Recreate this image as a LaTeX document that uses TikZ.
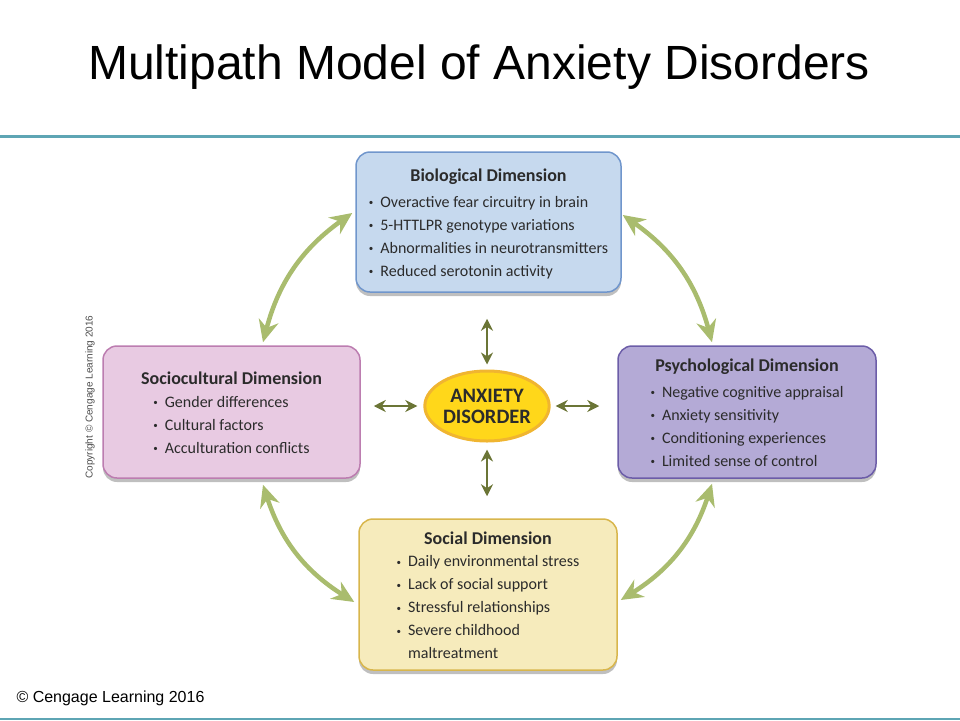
\documentclass[tikz,border=0pt]{standalone}
\usepackage{fontspec}
\setmainfont{Carlito}
\newfontfamily\arialfont{Liberation Sans}
\usetikzlibrary{arrows.meta,shapes.geometric,shadows,calc}

\definecolor{slideline}{HTML}{5EA5B4}
\definecolor{textgray}{HTML}{2B2B2B}
\definecolor{biofill}{HTML}{C6D9EE}
\definecolor{bioline}{HTML}{7096CC}
\definecolor{psyfill}{HTML}{B4AAD6}
\definecolor{psyline}{HTML}{6C5DA8}
\definecolor{socfill}{HTML}{E8CAE2}
\definecolor{socline}{HTML}{BC7DB0}
\definecolor{scifill}{HTML}{F6EBBC}
\definecolor{sciline}{HTML}{D8B64C}
\definecolor{anxfill}{HTML}{FFD71A}
\definecolor{anxline}{HTML}{F0B530}
\definecolor{darkolive}{HTML}{6B7536}
\definecolor{lightolive}{HTML}{A9BC6E}

\newcommand{\bul}{\raisebox{1.5pt}{\fontsize{9}{9}\selectfont\textbullet}}
\newcommand{\dimtext}[2]{%
  {\fontsize{18}{23}\selectfont\bfseries\rule{0pt}{21pt}#1}\\[5pt]%
  \fontsize{16}{23}\selectfont
  \begin{tabular}[t]{@{}l@{\hspace{7pt}}l@{}}#2\end{tabular}}

\begin{document}
\begin{tikzpicture}[x=1pt,y=-1pt,
            dimbox/.style = {rectangle, rounded corners=14pt,
                        line width=1.5pt, align=center, inner sep=0pt,
                        text=textgray,
                        drop shadow={shadow xshift=0pt, shadow yshift=-4pt,
                                     opacity=0.25, fill=black}},
            curvearrow/.style = {draw=lightolive, line width=4.5pt,
                        {Stealth[length=22pt,width=20pt]}-{Stealth[length=22pt,width=20pt]}},
            shortarrow/.style = {draw=darkolive, line width=2.5pt,
                        {Stealth[length=12pt,width=12pt]}-{Stealth[length=12pt,width=12pt]}}]
            \useasboundingbox (0,0) rectangle (960,720);
            % Title and slide lines
            \node[font=\arialfont\fontsize{48}{52}\selectfont] (title) at (479,67)
                {Multipath Model of Anxiety Disorders};
            \draw[slideline, line width=3pt] (0,136) -- (960,136);
            \draw[slideline, line width=2pt] (0,719) -- (960,719);
            \node[font=\arialfont\fontsize{16}{18}\selectfont, anchor=west] (foot) at (13,698)
                {© Cengage Learning 2016};
            \node[font=\arialfont\fontsize{10}{12}\selectfont, text=black!70, rotate=90] (copy) at (90,397)
                {Copyright © Cengage Learning 2016};
            % Biological dimension
            \node[dimbox, fill=biofill, draw=bioline, minimum width=265pt, minimum height=140pt]
                (bio) at (488.5,222) {\dimtext{Biological Dimension}{%
                \bul & Overactive fear circuitry in brain\\
                \bul & 5-HTTLPR genotype variations\\
                \bul & Abnormalities in neurotransmitters\\
                \bul & Reduced serotonin activity}};
            % Psychological dimension
            \node[dimbox, fill=psyfill, draw=psyline, minimum width=258pt, minimum height=132pt]
                (psy) at (747,412) {\dimtext{Psychological Dimension}{%
                \bul & Negative cognitive appraisal\\
                \bul & Anxiety sensitivity\\
                \bul & Conditioning experiences\\
                \bul & Limited sense of control}};
            % Sociocultural dimension
            \node[dimbox, fill=socfill, draw=socline, minimum width=257pt, minimum height=132pt]
                (soc) at (231.5,412) {\dimtext{Sociocultural Dimension}{%
                \bul & Gender differences\\
                \bul & Cultural factors\\
                \bul & Acculturation conflicts}};
            % Social dimension
            \node[dimbox, fill=scifill, draw=sciline, minimum width=258pt, minimum height=151pt]
                (sci) at (488,594.5) {\dimtext{Social Dimension}{%
                \bul & Daily environmental stress\\
                \bul & Lack of social support\\
                \bul & Stressful relationships\\
                \bul & Severe childhood\\
                     & maltreatment}};
            % Anxiety disorder
            \node[ellipse, fill=anxfill, draw=anxline, line width=3pt,
                  minimum width=122pt, minimum height=70pt, inner sep=0pt, align=center,
                  text=textgray, font=\fontsize{20.5}{21}\selectfont\bfseries]
                (anx) at (487,406) {ANXIETY\\DISORDER};
            % Short arrows
            \draw[shortarrow, shorten <=5pt, shorten >=26pt] (anx.north) -- (anx.north |- bio.south);
            \draw[shortarrow, shorten <=7pt, shorten >=22pt] (anx.south) -- (anx.south |- sci.north);
            \draw[shortarrow, shorten <=6pt, shorten >=13pt] (anx.west) -- (anx.west -| soc.east);
            \draw[shortarrow, shorten <=5pt, shorten >=18pt] (anx.east) -- (anx.east -| psy.west);
            % Curved arrows
            \draw[curvearrow] ($(soc.north)+(31.5,-3)$) to[bend left=20] ($(bio.west)+(-3,-9)$);
            \draw[curvearrow] ($(bio.east)+(1,-7)$) to[bend left=20] ($(psy.north)+(-35,-3)$);
            \draw[curvearrow] ($(soc.south)+(31.5,6)$) to[bend right=20] ($(sci.west)+(-4,7.5)$);
            \draw[curvearrow] ($(sci.east)+(3,5.5)$) to[bend right=20] ($(psy.south)+(-35,5)$);
        \end{tikzpicture}
\end{document}
